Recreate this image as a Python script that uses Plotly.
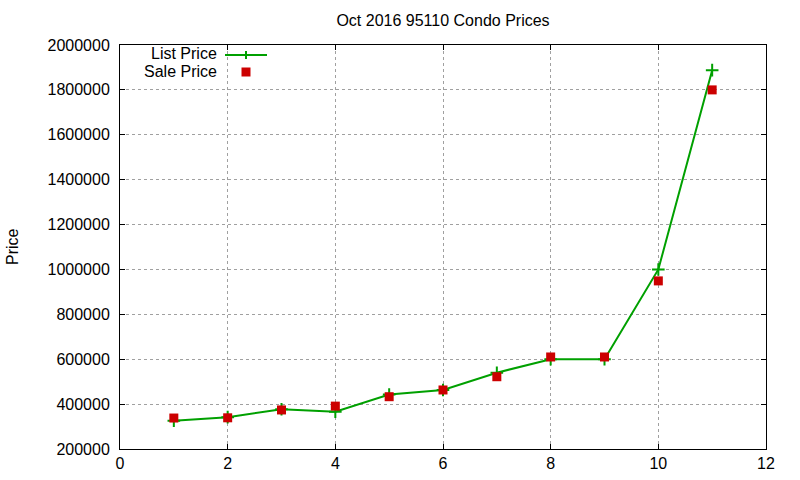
import plotly.graph_objects as go

months = [1, 2, 3, 4, 5, 6, 7, 8, 9, 10, 11]
list_price = [326000, 342000, 377000, 366000, 443000, 463000, 540000, 600000, 600000, 1000000, 1888000]
sale_price = [338000, 339000, 374000, 391000, 433000, 463000, 522000, 610000, 610000, 949000, 1800000]

GREEN = "#00a000"
RED = "#cc0000"
FONT = "Liberation Sans, Arial, sans-serif"

fig = go.Figure()
fig.add_trace(go.Scatter(
    x=months, y=list_price, mode="lines+markers", name="List Price",
    line=dict(color=GREEN, width=2),
    marker=dict(symbol="cross-thin", size=9, line=dict(color=GREEN, width=2)),
))
fig.add_trace(go.Scatter(
    x=months, y=sale_price, mode="markers", name="Sale Price",
    marker=dict(symbol="square", size=9, color=RED, line=dict(width=0)),
))

L, R, T, B = 120, 766, 45, 449
W, H = 800, 480
pw, ph = R - L, B - T

def px(xp):
    return (xp - L) / pw

def py(yp):
    return (B - yp) / ph

axis_common = dict(
    showline=True, linecolor="black", linewidth=1, mirror="ticks",
    ticks="inside", ticklen=5, tickwidth=1, tickcolor="black",
    showgrid=True, gridcolor="#a0a0a0", gridwidth=1, griddash="3px,3px",
    zeroline=False, tickfont=dict(family=FONT, size=16, color="black"),
    automargin=False,
)

fig.update_xaxes(range=[0, 12], dtick=2, tick0=0, ticklabelstandoff=0, **axis_common)
fig.update_yaxes(range=[200000, 2000000], dtick=200000, tick0=200000,
                 tickformat="d", ticklabelstandoff=6, **axis_common)

shapes = []
# legend sample: List Price line with plus
ly = py(55)
shapes.append(dict(type="line", xref="paper", yref="paper", x0=px(225), x1=px(267), y0=ly, y1=ly,
                   line=dict(color=GREEN, width=2)))
shapes.append(dict(type="line", xref="paper", yref="paper", x0=px(242), x1=px(250), y0=ly, y1=ly,
                   line=dict(color=GREEN, width=2)))
shapes.append(dict(type="line", xref="paper", yref="paper", x0=px(246), x1=px(246), y0=py(51), y1=py(59),
                   line=dict(color=GREEN, width=2)))
# legend sample: Sale Price square
shapes.append(dict(type="rect", xref="paper", yref="paper", x0=px(241.5), x1=px(250.5), y0=py(67.5), y1=py(76.5),
                   fillcolor=RED, line=dict(width=0)))

legend_font = dict(family=FONT, size=16, color="black")
annotations = [
    dict(text="List Price", xref="paper", yref="paper", x=px(218), y=py(53.5), xanchor="right", yanchor="middle",
         showarrow=False, borderpad=0, font=legend_font),
    dict(text="Sale Price", xref="paper", yref="paper", x=px(218), y=py(72), xanchor="right", yanchor="middle",
         showarrow=False, borderpad=0, font=legend_font),
    dict(text="Price", xref="paper", yref="paper", x=px(12), y=py(247), xanchor="center", yanchor="middle",
         textangle=-90, showarrow=False, font=legend_font),
]

fig.update_layout(
    width=W, height=H,
    margin=dict(l=L, r=W - R, t=T, b=H - B, pad=0),
    paper_bgcolor="white", plot_bgcolor="white",
    showlegend=False,
    title=dict(text="Oct 2016 95110 Condo Prices", x=0.5, xref="paper", xanchor="center",
               y=1 - 20 / H, yref="container", yanchor="middle",
               font=dict(family=FONT, size=16, color="black")),
    shapes=shapes, annotations=annotations,
)

fig.write_html("out.html")
